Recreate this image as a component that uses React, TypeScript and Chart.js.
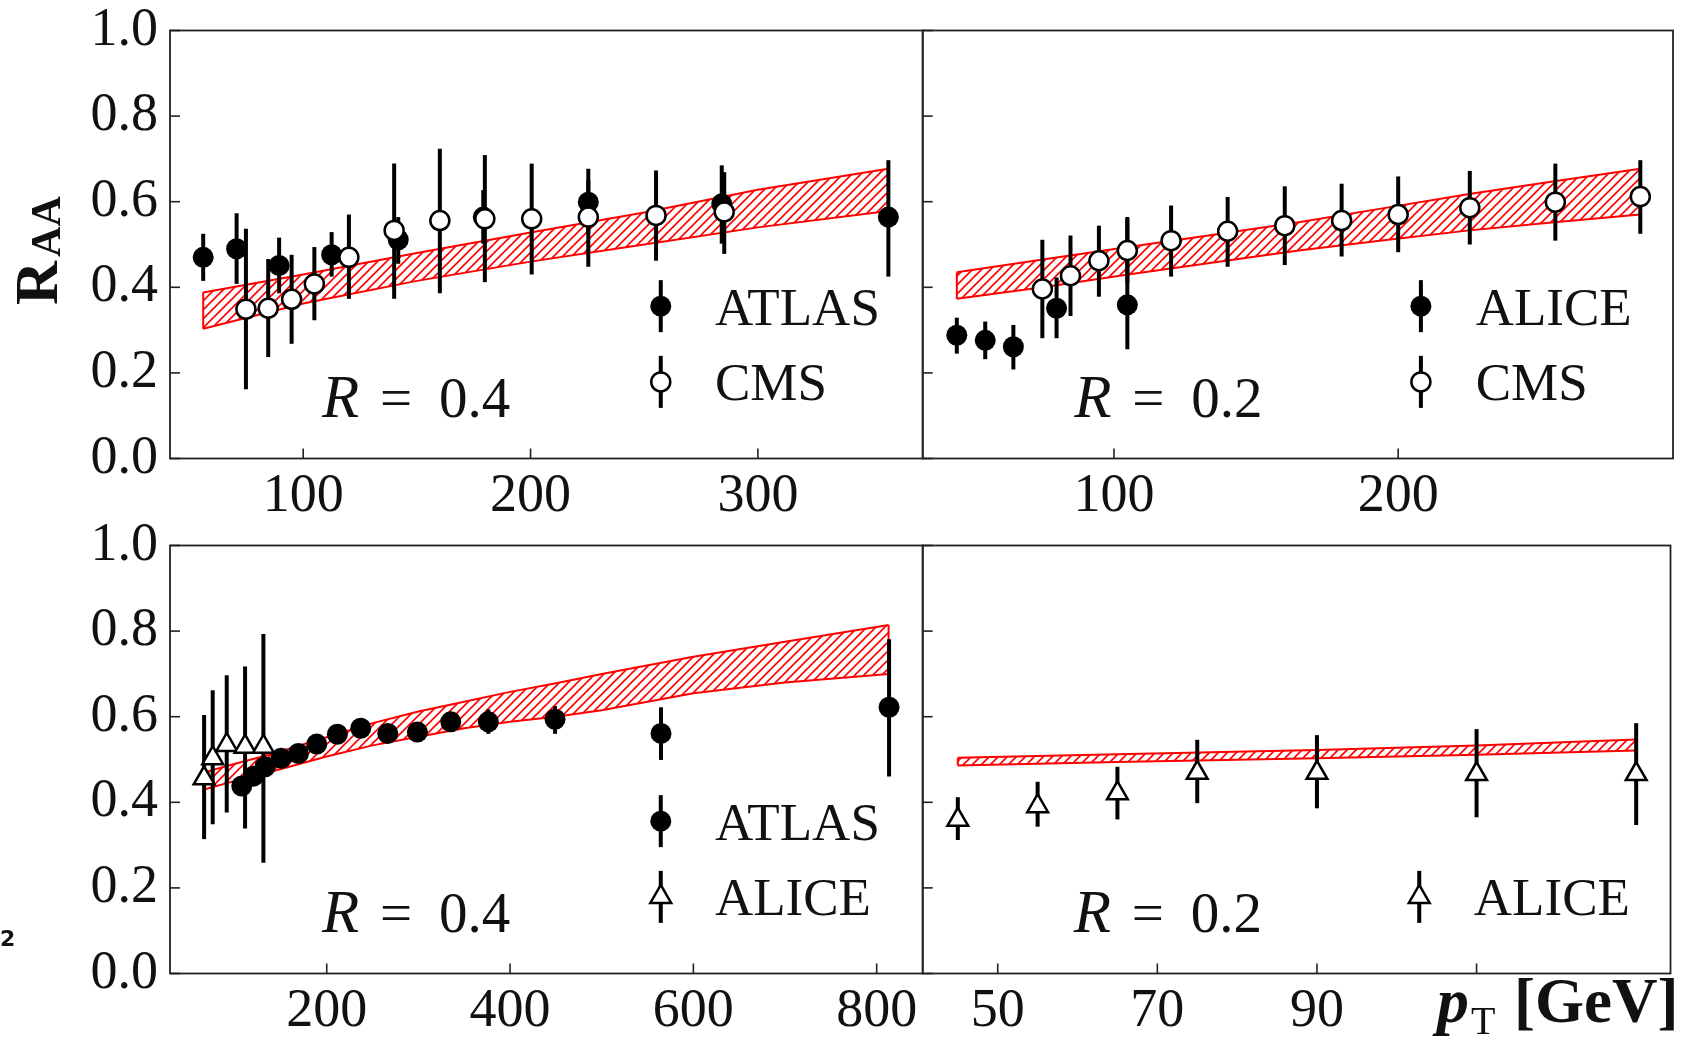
import React, { useEffect, useRef } from 'react';
import { Chart, registerables } from 'chart.js';

Chart.register(...registerables);

const CANVAS_W = 1685;
const CANVAS_H = 1038;
const SERIF = '"Liberation Serif", "Times New Roman", serif';

// ---------- shared ----------
const Y_TICKS = [0, 0.2, 0.4, 0.6, 0.8, 1.0];

// ---------- top-left: R = 0.4 (ATLAS, CMS) ----------
const TL_X_TICKS = [100, 200, 300];
const TL_ATLAS_PT = [56, 70.7, 89.4, 112.5, 141.8, 179.2, 225.4, 284.1, 357.4];
const TL_ATLAS_RAA = [0.47, 0.49, 0.451, 0.476, 0.511, 0.564, 0.599, 0.595, 0.564];
const TL_ATLAS_LO = [0.415, 0.408, 0.386, 0.425, 0.455, 0.502, 0.525, 0.502, 0.425];
const TL_ATLAS_HI = [0.525, 0.573, 0.516, 0.529, 0.564, 0.627, 0.677, 0.685, 0.697];
const TL_CMS_PT = [74.8, 84.6, 94.9, 104.9, 120.1, 140.0, 160.1, 179.9, 200.5, 225.4, 255.2, 285.2];
const TL_CMS_RAA = [0.349, 0.351, 0.372, 0.408, 0.47, 0.533, 0.556, 0.56, 0.56, 0.564, 0.568, 0.576];
const TL_CMS_LO = [0.162, 0.237, 0.268, 0.323, 0.373, 0.373, 0.386, 0.412, 0.43, 0.448, 0.462, 0.478];
const TL_CMS_HI = [0.537, 0.466, 0.476, 0.494, 0.57, 0.689, 0.724, 0.709, 0.689, 0.65, 0.673, 0.669];
const TL_BAND_PT = [56, 100, 150, 200, 250, 300, 357.4];
const TL_BAND_HI = [0.388, 0.43, 0.48, 0.528, 0.575, 0.628, 0.677];
const TL_BAND_LO = [0.303, 0.362, 0.415, 0.46, 0.5, 0.54, 0.578];

// ---------- top-right: R = 0.2 (ALICE, CMS) ----------
const TR_X_TICKS = [100, 200];
const TR_ALICE_PT = [44.7, 54.7, 64.6, 79.8, 104.7];
const TR_ALICE_RAA = [0.288, 0.276, 0.261, 0.351, 0.359];
const TR_ALICE_LO = [0.245, 0.232, 0.208, 0.281, 0.255];
const TR_ALICE_HI = [0.329, 0.32, 0.312, 0.423, 0.564];
const TR_CMS_PT = [74.8, 84.7, 94.7, 104.7, 120.1, 140.0, 160.1, 180.1, 200.0, 225.2, 255.3, 285.2];
const TR_CMS_RAA = [0.396, 0.427, 0.462, 0.486, 0.509, 0.531, 0.544, 0.556, 0.57, 0.586, 0.599, 0.612];
const TR_CMS_LO = [0.281, 0.333, 0.378, 0.41, 0.425, 0.448, 0.452, 0.472, 0.482, 0.5, 0.509, 0.525];
const TR_CMS_HI = [0.511, 0.521, 0.544, 0.56, 0.591, 0.611, 0.636, 0.642, 0.659, 0.672, 0.689, 0.697];
const TR_BAND_PT = [44.7, 75, 105, 135, 165, 195, 225, 255, 285.2];
const TR_BAND_HI = [0.435, 0.465, 0.494, 0.523, 0.552, 0.585, 0.618, 0.648, 0.677];
const TR_BAND_LO = [0.373, 0.4, 0.43, 0.458, 0.486, 0.51, 0.533, 0.552, 0.57];

// ---------- bottom-left: R = 0.4 (ATLAS, ALICE) ----------
const BL_X_TICKS = [200, 400, 600, 800];
const BL_ATLAS_PT = [107.3, 120, 132.7, 150.2, 169.1, 189.1, 211.6, 237.1, 266.6, 298.9, 335.3, 376.3, 449.1, 564.7, 813.5];
const BL_ATLAS_RAA = [0.438, 0.461, 0.483, 0.503, 0.514, 0.536, 0.559, 0.573, 0.561, 0.564, 0.588, 0.588, 0.594, 0.561, 0.622];
const BL_ATLAS_LO = [0.418, 0.441, 0.463, 0.483, 0.494, 0.516, 0.539, 0.553, 0.541, 0.544, 0.566, 0.56, 0.56, 0.499, 0.46];
const BL_ATLAS_HI = [0.458, 0.481, 0.503, 0.523, 0.534, 0.556, 0.579, 0.593, 0.581, 0.584, 0.61, 0.617, 0.625, 0.622, 0.781];
const BL_ALICE_PT = [66.2, 75.6, 90.9, 110.9, 130.9];
const BL_ALICE_RAA = [0.456, 0.503, 0.534, 0.53, 0.53];
const BL_ALICE_LO = [0.314, 0.349, 0.376, 0.339, 0.259];
const BL_ALICE_HI = [0.604, 0.662, 0.697, 0.717, 0.793];
const BL_BAND_PT = [66, 100, 140, 200, 250, 300, 350, 400, 450, 500, 600, 700, 813];
const BL_BAND_HI = [0.47, 0.49, 0.513, 0.552, 0.585, 0.612, 0.635, 0.658, 0.678, 0.7, 0.74, 0.775, 0.814];
const BL_BAND_LO = [0.43, 0.45, 0.472, 0.507, 0.533, 0.553, 0.573, 0.588, 0.6, 0.615, 0.655, 0.68, 0.7];

// ---------- bottom-right: R = 0.2 (ALICE) ----------
const BR_X_TICKS = [50, 70, 90, 110];
const BR_HIDDEN_TICK_LABELS = [110];
const BR_ALICE_PT = [45, 55, 65, 75, 90, 110, 130];
const BR_ALICE_RAA = [0.359, 0.391, 0.421, 0.469, 0.469, 0.466, 0.466];
const BR_ALICE_LO = [0.312, 0.343, 0.36, 0.398, 0.386, 0.365, 0.347];
const BR_ALICE_HI = [0.412, 0.448, 0.483, 0.546, 0.557, 0.571, 0.585];
const BR_BAND_PT = [45, 65, 90, 110, 130];
const BR_BAND_HI = [0.504, 0.512, 0.522, 0.533, 0.547];
const BR_BAND_LO = [0.486, 0.494, 0.503, 0.511, 0.521];

type MarkerKind = 'filled' | 'open' | 'triangle';
type Series = { label: string; marker: MarkerKind; pt: number[]; raa: number[]; lo: number[]; hi: number[]; row: number };
type Box = { left: number; right: number; top: number; bottom: number };
type PanelDef = {
  box: Box;
  xMin: number;
  xMax: number;
  xTicks: number[];
  hiddenLabels: number[];
  showYLabels: boolean;
  band: { pt: number[]; hi: number[]; lo: number[] };
  series: Series[];
  rValue: string;
  legendMarkerFrac: number;
  legendTextFrac: number;
  yTitle?: boolean;
  xTitle?: boolean;
  stray?: boolean;
};

const LEFT_BOX_L = 170, MID_X = 922.7, RIGHT_BOX_R = 1676.7;
const TOP_T = 30.5, TOP_B = 458.5, BOT_T = 545.5, BOT_B = 973.5;

const FILLED_R = 10.5;
const OPEN_R = 9.5;
const TRI_R = 12;

const PANELS: PanelDef[] = [
  {
    box: { left: LEFT_BOX_L, right: MID_X, top: TOP_T, bottom: TOP_B },
    xMin: 41.4, xMax: 372.5, xTicks: TL_X_TICKS, hiddenLabels: [], showYLabels: true,
    band: { pt: TL_BAND_PT, hi: TL_BAND_HI, lo: TL_BAND_LO },
    series: [
      { label: 'ATLAS', marker: 'filled', pt: TL_ATLAS_PT, raa: TL_ATLAS_RAA, lo: TL_ATLAS_LO, hi: TL_ATLAS_HI, row: 0 },
      { label: 'CMS', marker: 'open', pt: TL_CMS_PT, raa: TL_CMS_RAA, lo: TL_CMS_LO, hi: TL_CMS_HI, row: 1 },
    ],
    rValue: '0.4', legendMarkerFrac: 0.652, legendTextFrac: 0.724, yTitle: true,
  },
  {
    box: { left: MID_X, right: RIGHT_BOX_R, top: TOP_T, bottom: TOP_B },
    xMin: 32.7, xMax: 296.7, xTicks: TR_X_TICKS, hiddenLabels: [], showYLabels: false,
    band: { pt: TR_BAND_PT, hi: TR_BAND_HI, lo: TR_BAND_LO },
    series: [
      { label: 'ALICE', marker: 'filled', pt: TR_ALICE_PT, raa: TR_ALICE_RAA, lo: TR_ALICE_LO, hi: TR_ALICE_HI, row: 0 },
      { label: 'CMS', marker: 'open', pt: TR_CMS_PT, raa: TR_CMS_RAA, lo: TR_CMS_LO, hi: TR_CMS_HI, row: 1 },
    ],
    rValue: '0.2', legendMarkerFrac: 0.664, legendTextFrac: 0.737,
  },
  {
    box: { left: LEFT_BOX_L, right: MID_X, top: BOT_T, bottom: BOT_B },
    xMin: 29, xMax: 850.2, xTicks: BL_X_TICKS, hiddenLabels: [], showYLabels: true,
    band: { pt: BL_BAND_PT, hi: BL_BAND_HI, lo: BL_BAND_LO },
    series: [
      { label: 'ATLAS', marker: 'filled', pt: BL_ATLAS_PT, raa: BL_ATLAS_RAA, lo: BL_ATLAS_LO, hi: BL_ATLAS_HI, row: 0 },
      { label: 'ALICE', marker: 'triangle', pt: BL_ALICE_PT, raa: BL_ALICE_RAA, lo: BL_ALICE_LO, hi: BL_ALICE_HI, row: 1 },
    ],
    rValue: '0.4', legendMarkerFrac: 0.652, legendTextFrac: 0.724, stray: true,
  },
  {
    box: { left: MID_X, right: RIGHT_BOX_R, top: BOT_T, bottom: BOT_B },
    xMin: 40.6, xMax: 134.3, xTicks: BR_X_TICKS, hiddenLabels: BR_HIDDEN_TICK_LABELS, showYLabels: false,
    band: { pt: BR_BAND_PT, hi: BR_BAND_HI, lo: BR_BAND_LO },
    series: [
      { label: 'ALICE', marker: 'triangle', pt: BR_ALICE_PT, raa: BR_ALICE_RAA, lo: BR_ALICE_LO, hi: BR_ALICE_HI, row: 1 },
    ],
    rValue: '0.2', legendMarkerFrac: 0.664, legendTextFrac: 0.737, xTitle: true,
  },
];

const LEGEND_MARKER_ROW_FRAC = [0.356, 0.179];
const LEGEND_TEXT_ROW_FRAC = [0.312, 0.137];

function makeHatch(): CanvasPattern | string {
  const s = 9;
  const c = document.createElement('canvas');
  c.width = s;
  c.height = s;
  const g = c.getContext('2d');
  if (!g) return 'rgba(255,0,0,0.3)';
  g.strokeStyle = '#ff0000';
  g.lineWidth = 1.6;
  g.beginPath();
  g.moveTo(0, s); g.lineTo(s, 0);
  g.moveTo(-2, 2); g.lineTo(2, -2);
  g.moveTo(s - 2, s + 2); g.lineTo(s + 2, s - 2);
  g.stroke();
  return g.createPattern(c, 'repeat') || 'rgba(255,0,0,0.3)';
}

function drawMarker(ctx: CanvasRenderingContext2D, kind: MarkerKind, x: number, y: number) {
  ctx.save();
  ctx.lineWidth = 2.5;
  ctx.strokeStyle = '#000';
  if (kind === 'filled') {
    ctx.fillStyle = '#000';
    ctx.beginPath(); ctx.arc(x, y, FILLED_R, 0, Math.PI * 2); ctx.fill();
  } else if (kind === 'open') {
    ctx.fillStyle = '#fff';
    ctx.beginPath(); ctx.arc(x, y, OPEN_R, 0, Math.PI * 2); ctx.fill(); ctx.stroke();
  } else {
    const r = TRI_R;
    ctx.fillStyle = '#fff';
    ctx.beginPath();
    ctx.moveTo(x, y - r);
    ctx.lineTo(x + r * 0.866, y + r / 2);
    ctx.lineTo(x - r * 0.866, y + r / 2);
    ctx.closePath();
    ctx.fill(); ctx.stroke();
  }
  ctx.restore();
}

const errorBarPlugin = {
  id: 'errorBars',
  beforeDatasetDraw(chart: any, args: any) {
    const ds = chart.data.datasets[args.index];
    if (!ds.errLo) return;
    const ctx: CanvasRenderingContext2D = chart.ctx;
    const ys = chart.scales.y;
    ctx.save();
    ctx.strokeStyle = '#000';
    ctx.lineWidth = 4;
    args.meta.data.forEach((pt: any, i: number) => {
      ctx.beginPath();
      ctx.moveTo(pt.x, ys.getPixelForValue(ds.errLo[i]));
      ctx.lineTo(pt.x, ys.getPixelForValue(ds.errHi[i]));
      ctx.stroke();
    });
    ctx.restore();
  },
  afterDatasetDraw(chart: any, args: any) {
    const ds = chart.data.datasets[args.index];
    if (!ds.bandEnds) return;
    const ctx: CanvasRenderingContext2D = chart.ctx;
    const xs = chart.scales.x;
    const ys = chart.scales.y;
    const b = ds.bandEnds;
    ctx.save();
    ctx.strokeStyle = '#ff0000';
    ctx.lineWidth = 2;
    [0, b.pt.length - 1].forEach((i) => {
      const px = xs.getPixelForValue(b.pt[i]);
      ctx.beginPath();
      ctx.moveTo(px, ys.getPixelForValue(b.lo[i]));
      ctx.lineTo(px, ys.getPixelForValue(b.hi[i]));
      ctx.stroke();
    });
    ctx.restore();
  },
};

const decorPlugin = {
  id: 'panelDecor',
  afterDraw(chart: any, _args: any, opts: any) {
    const p: PanelDef = opts.panel;
    const ctx: CanvasRenderingContext2D = chart.ctx;
    const { left, right, top, bottom } = chart.chartArea;
    const w = right - left;
    const h = bottom - top;
    ctx.save();
    // frame
    ctx.strokeStyle = '#222';
    ctx.lineWidth = 1.8;
    ctx.strokeRect(left, top, w, h);
    // inward ticks
    ctx.lineWidth = 1.6;
    const xs = chart.scales.x;
    const ys = chart.scales.y;
    xs.ticks.forEach((t: any) => {
      const px = xs.getPixelForValue(t.value);
      ctx.beginPath(); ctx.moveTo(px, bottom); ctx.lineTo(px, bottom - 10); ctx.stroke();
    });
    ys.ticks.forEach((t: any) => {
      const py = ys.getPixelForValue(t.value);
      ctx.beginPath(); ctx.moveTo(left, py); ctx.lineTo(left + 10, py); ctx.stroke();
    });

    ctx.fillStyle = '#111';
    ctx.textBaseline = 'alphabetic';
    ctx.textAlign = 'left';

    // R = value label
    const rx = left + 0.202 * w;
    const ry = bottom - 0.097 * h;
    ctx.font = `italic 61px ${SERIF}`;
    ctx.fillText('R', rx, ry);
    ctx.font = `57px ${SERIF}`;
    ctx.fillText('=', rx + 58, ry);
    ctx.fillText(p.rValue, rx + 117, ry);

    // legend
    const mx = left + p.legendMarkerFrac * w;
    const tx = left + p.legendTextFrac * w;
    p.series.forEach((s) => {
      const my = bottom - LEGEND_MARKER_ROW_FRAC[s.row] * h;
      const ty = bottom - LEGEND_TEXT_ROW_FRAC[s.row] * h;
      ctx.save();
      ctx.strokeStyle = '#000';
      ctx.lineWidth = 4;
      ctx.beginPath(); ctx.moveTo(mx, my - 26); ctx.lineTo(mx, my + 26); ctx.stroke();
      ctx.restore();
      drawMarker(ctx, s.marker, mx, my);
      ctx.fillStyle = '#111';
      ctx.font = `53px ${SERIF}`;
      ctx.fillText(s.label, tx, ty);
    });

    // y-axis title R_AA (rotated)
    if (p.yTitle) {
      ctx.save();
      ctx.translate(57, 305);
      ctx.rotate(-Math.PI / 2);
      ctx.fillStyle = '#111';
      ctx.font = `bold 61px ${SERIF}`;
      ctx.fillText('R', 0, 0);
      const rw = ctx.measureText('R').width;
      ctx.font = `bold 42px ${SERIF}`;
      ctx.fillText('AA', rw + 4, 3);
      ctx.restore();
    }

    // x-axis title p_T [GeV]
    if (p.xTitle) {
      ctx.fillStyle = '#111';
      ctx.font = `bold italic 64px ${SERIF}`;
      ctx.fillText('p', 1437, 1022);
      const pw = ctx.measureText('p').width;
      ctx.font = `40px ${SERIF}`;
      ctx.fillText('T', 1437 + pw + 2, 1034);
      ctx.font = `bold 63px ${SERIF}`;
      ctx.fillText('[GeV]', 1514, 1022);
    }

    if (p.stray) {
      ctx.fillStyle = '#111';
      ctx.font = `bold 22px "DejaVu Sans", sans-serif`;
      ctx.fillText('2', 0, 946);
    }
    ctx.restore();
  },
};

function buildConfig(p: PanelDef, hatch: CanvasPattern | string): any {
  const toXY = (xs: number[], ys: number[]) => xs.map((x, i) => ({ x, y: ys[i] }));
  const datasets: any[] = [
    {
      type: 'line',
      label: 'band-hi',
      data: toXY(p.band.pt, p.band.hi),
      borderColor: '#ff0000',
      borderWidth: 2,
      pointRadius: 0,
      fill: false,
      order: 10,
    },
    {
      type: 'line',
      label: 'band-lo',
      data: toXY(p.band.pt, p.band.lo),
      borderColor: '#ff0000',
      borderWidth: 2,
      pointRadius: 0,
      backgroundColor: hatch,
      fill: '-1',
      order: 9,
      bandEnds: p.band,
    },
  ];
  p.series.forEach((s, i) => {
    const filled = s.marker === 'filled';
    datasets.push({
      type: 'scatter',
      label: s.label,
      data: toXY(s.pt, s.raa),
      errLo: s.lo,
      errHi: s.hi,
      showLine: false,
      pointStyle: s.marker === 'triangle' ? 'triangle' : 'circle',
      pointRadius: filled ? FILLED_R : s.marker === 'open' ? OPEN_R : TRI_R,
      pointBackgroundColor: filled ? '#000' : '#fff',
      pointBorderColor: '#000',
      pointBorderWidth: filled ? 0 : 2.5,
      order: 5 - i,
    });
  });

  const box = p.box;
  return {
    type: 'scatter',
    data: { datasets },
    options: {
      responsive: false,
      animation: false,
      devicePixelRatio: 1,
      events: [],
      layout: { padding: { left: 0, top: box.top, right: CANVAS_W - box.right, bottom: 0 } },
      plugins: {
        legend: { display: false },
        tooltip: { enabled: false },
        panelDecor: { panel: p },
      },
      scales: {
        x: {
          type: 'linear',
          position: 'bottom',
          min: p.xMin,
          max: p.xMax,
          afterBuildTicks: (s: any) => {
            s.ticks = p.xTicks.map((v) => ({ value: v }));
          },
          afterFit: (s: any) => {
            s.height = CANVAS_H - box.bottom;
            s.paddingLeft = 0;
            s.paddingRight = 0;
            s.paddingTop = 0;
            s.paddingBottom = 0;
          },
          grid: { display: false, drawTicks: false },
          border: { display: false },
          ticks: {
            autoSkip: false,
            maxRotation: 0,
            minRotation: 0,
            padding: 6,
            color: '#111',
            font: { family: SERIF, size: 54, lineHeight: 1.2 },
            callback: (v: any) => (p.hiddenLabels.includes(Number(v)) ? '' : String(v)),
          },
        },
        y: {
          type: 'linear',
          position: 'left',
          min: 0,
          max: 1,
          afterBuildTicks: (s: any) => {
            s.ticks = Y_TICKS.map((v) => ({ value: v }));
          },
          afterFit: (s: any) => {
            s.width = box.left;
            s.paddingLeft = 0;
            s.paddingRight = 0;
            s.paddingTop = 0;
            s.paddingBottom = 0;
          },
          grid: { display: false, drawTicks: false },
          border: { display: false },
          ticks: {
            display: p.showYLabels,
            padding: 12,
            color: '#111',
            font: { family: SERIF, size: 54, lineHeight: 1.2 },
            callback: (v: any) => Number(v).toFixed(1),
          },
        },
      },
    },
    plugins: [errorBarPlugin, decorPlugin],
  };
}

export default function App() {
  const canvases = useRef<(HTMLCanvasElement | null)[]>([]);

  useEffect(() => {
    document.body.style.margin = '0';
    const hatch = makeHatch();
    const charts: Chart[] = [];
    PANELS.forEach((p, i) => {
      const el = canvases.current[i];
      if (el) charts.push(new Chart(el, buildConfig(p, hatch)));
    });
    return () => charts.forEach((c) => c.destroy());
  }, []);

  return (
    <div style={{ position: 'relative', width: CANVAS_W, height: CANVAS_H, background: '#fff', overflow: 'hidden' }}>
      {PANELS.map((_, i) => (
        <canvas
          key={i}
          ref={(el) => {
            canvases.current[i] = el;
          }}
          width={CANVAS_W}
          height={CANVAS_H}
          style={{ position: 'absolute', left: 0, top: 0, width: CANVAS_W, height: CANVAS_H }}
        />
      ))}
    </div>
  );
}
